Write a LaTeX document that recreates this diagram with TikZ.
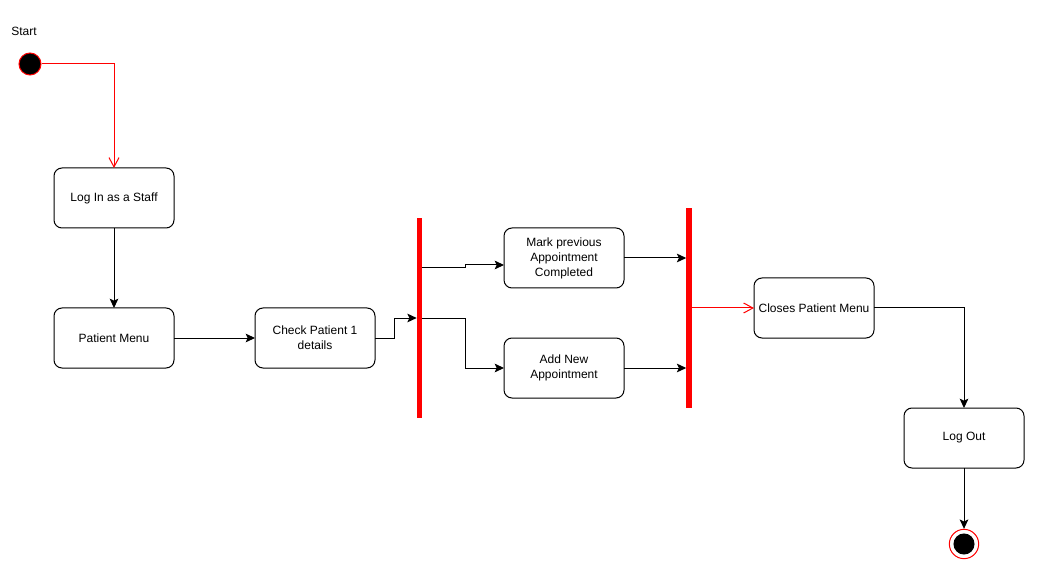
\documentclass[tikz,border=0pt]{standalone}
\usepackage{fontspec}
\setmainfont{Liberation Sans}
\usepackage{tikz}
\usetikzlibrary{arrows.meta, positioning}

\begin{document}
\begin{tikzpicture}[x=0.75pt, y=-0.75pt,
    every node/.style={font=\fontsize{9}{11.25}\selectfont},
    activity/.style={draw, rounded corners=6pt, line width=0.75pt, minimum width=90pt, minimum height=45pt, align=center, inner sep=0pt, outer sep=0pt},
    forkbar/.style={fill=red, inner sep=0pt, outer sep=0pt, minimum width=4.2pt},
    startdot/.style={circle, fill=black, draw=red, line width=0.75pt, minimum size=16.5pt, inner sep=0pt},
    enddot/.style={circle, draw=red, line width=0.75pt, minimum size=22pt, inner sep=0pt,
        path picture={\fill[black] (path picture bounding box.center) circle (7.9pt);}},
    flow/.style={line width=0.75pt, -{Stealth[length=7pt, width=6.5pt, inset=1.5pt]}},
    redflow/.style={red, line width=0.75pt, -{Straight Barb[length=7pt, width=7.5pt]}}]
    \useasboundingbox (0,0) rectangle (1041,573);

    \node at (24, 31) (startlabel) {Start};
    \node[startdot] at (30, 64) (start) {};
    \node[activity] at (114, 198) (login) {Log In as a Staff};
    \node[activity] at (114, 338) (menu) {Patient Menu};
    \node[activity] at (315, 338) (check) {Check Patient 1\\details};
    \node[forkbar, minimum height=150pt] at (419.5, 318) (fork1) {};
    \node[activity] at (564, 258) (mark) {Mark previous\\Appointment\\Completed};
    \node[activity] at (564, 368) (add) {Add New\\Appointment};
    \node[forkbar, minimum height=150pt] at (689, 308) (fork2) {};
    \node[activity] at (814, 308) (closes) {Closes Patient Menu};
    \node[activity] at (964, 438) (logout) {Log Out};
    \node[enddot] at (964, 544) (end) {};

    \draw [redflow] (start) -| (login);
    \draw [flow] (login) -- (menu);
    \draw [flow] (menu) -- (check);
    \draw [flow] (check.east) -- ++(19, 0) |- (fork1);
    \draw [flow] ([yshift=37.5pt]fork1.east) -- ++(43, 0) -- ++(0, -3) |- ([yshift=-5.25pt]mark.west);
    \draw [flow] (fork1.east) -- ++(43, 0) |- (add);
    \draw [flow] (mark) -- (mark -| fork2.west);
    \draw [flow] (add) -- (add -| fork2.west);
    \draw [redflow] (fork2) -- (closes);
    \draw [flow] (closes) -| (logout);
    \draw [flow] (logout) -- (end);
\end{tikzpicture}
\end{document}
